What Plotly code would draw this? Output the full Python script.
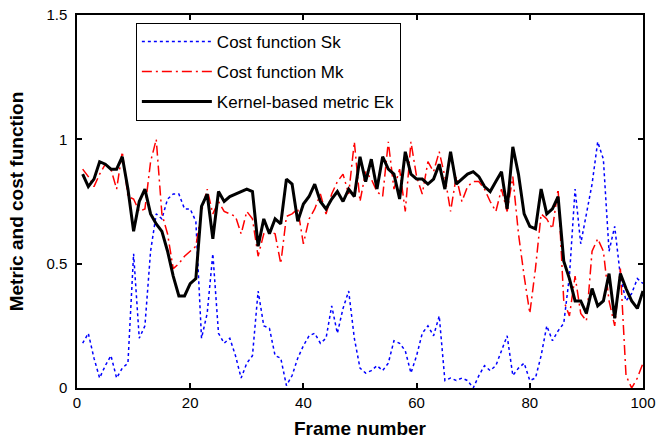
import plotly.graph_objects as go

frames = list(range(1, 101))

sk = [0.18, 0.22, 0.12, 0.04, 0.09, 0.13, 0.04, 0.08, 0.10, 0.54,
      0.20, 0.25, 0.55, 0.70, 0.68, 0.76, 0.78, 0.78, 0.72, 0.72,
      0.67, 0.20, 0.30, 0.54, 0.22, 0.18, 0.20, 0.13, 0.04, 0.10,
      0.13, 0.39, 0.25, 0.24, 0.13, 0.12, 0.01, 0.05, 0.12, 0.17,
      0.21, 0.22, 0.18, 0.20, 0.33, 0.22, 0.32, 0.39, 0.20, 0.08,
      0.06, 0.07, 0.09, 0.07, 0.10, 0.19, 0.18, 0.15, 0.06, 0.13,
      0.22, 0.25, 0.21, 0.29, 0.03, 0.04, 0.03, 0.04, 0.03, 0.00,
      0.05, 0.09, 0.07, 0.09, 0.15, 0.21, 0.05, 0.08, 0.10, 0.03,
      0.04, 0.13, 0.25, 0.19, 0.23, 0.26, 0.45, 0.80, 0.58, 0.70,
      0.82, 0.99, 0.92, 0.55, 0.65, 0.45, 0.35, 0.38, 0.44, 0.42]

mk = [0.88, 0.85, 0.81, 0.86, 0.90, 0.88, 0.80, 0.95, 0.77, 0.76,
      0.71, 0.72, 0.91, 1.00, 0.70, 0.62, 0.48, 0.50, 0.53, 0.55,
      0.57, 0.71, 0.80, 0.70, 0.75, 0.71, 0.70, 0.69, 0.62, 0.71,
      0.68, 0.53, 0.62, 0.63, 0.62, 0.50, 0.69, 0.70, 0.72, 0.58,
      0.68, 0.72, 0.78, 0.70, 0.78, 0.83, 0.86, 0.78, 0.99, 0.75,
      0.87, 0.84, 0.79, 0.77, 0.99, 0.80, 0.88, 0.71, 0.99, 0.85,
      0.78, 0.91, 0.87, 0.95, 0.85, 0.71, 0.85, 0.75, 0.81, 0.83,
      0.83, 0.80, 0.75, 0.71, 0.80, 0.71, 0.85, 0.62, 0.45, 0.30,
      0.48, 0.70, 0.68, 0.64, 0.80, 0.35, 0.29, 0.45, 0.30, 0.27,
      0.55, 0.60, 0.55, 0.35, 0.25, 0.48, 0.05, 0.00, 0.04, 0.10]

ek = [0.86, 0.81, 0.84, 0.91, 0.90, 0.88, 0.88, 0.93, 0.80, 0.63,
      0.75, 0.80, 0.70, 0.66, 0.63, 0.55, 0.45, 0.37, 0.37, 0.42,
      0.44, 0.73, 0.78, 0.60, 0.79, 0.75, 0.77, 0.78, 0.79, 0.80,
      0.79, 0.57, 0.68, 0.62, 0.68, 0.66, 0.84, 0.82, 0.67, 0.74,
      0.77, 0.82, 0.75, 0.72, 0.76, 0.79, 0.75, 0.80, 0.77, 0.93,
      0.83, 0.92, 0.80, 0.93, 0.88, 0.86, 0.76, 0.95, 0.86, 0.84,
      0.84, 0.82, 0.84, 0.90, 0.80, 0.95, 0.82, 0.84, 0.86, 0.87,
      0.85, 0.81, 0.79, 0.83, 0.87, 0.72, 0.97, 0.86, 0.70, 0.65,
      0.64, 0.80, 0.70, 0.72, 0.77, 0.51, 0.44, 0.35, 0.35, 0.30,
      0.40, 0.33, 0.35, 0.46, 0.28, 0.46, 0.40, 0.35, 0.32, 0.39]

names = ["Cost function Sk", "Cost function Mk", "Kernel-based metric Ek"]
x_ticks = [0, 20, 40, 60, 80, 100]
y_ticks = [0, 0.5, 1, 1.5]
y_tick_text = ["0", "0.5", "1", "1.5"]
x_range = [0, 100]
y_range = [0, 1.5]

fig = go.Figure()
fig.add_trace(go.Scatter(x=frames, y=sk, mode="lines", name=names[0], legendgroup="a",
                         line=dict(color="#0000FF", width=1.5, dash="3px,3px")))
fig.add_trace(go.Scatter(x=frames, y=mk, mode="lines", name=names[1], legendgroup="b",
                         line=dict(color="#FF0000", width=1.5, dash="10px,4px,2px,4px")))
fig.add_trace(go.Scatter(x=frames, y=ek, mode="lines", name=names[2], legendgroup="c",
                         line=dict(color="#000000", width=3)))

axis_font = dict(family="Liberation Sans, Arial, sans-serif", size=15, color="black")
title_font = dict(family="Liberation Sans, Arial, sans-serif",
                  size=19, color="black", weight="bold")

fig.update_layout(
    width=666, height=443,
    margin=dict(l=77, r=23, t=15, b=55),
    plot_bgcolor="white", paper_bgcolor="white",
    showlegend=True,
    legend=dict(x=0.104, y=0.979, xanchor="left", yanchor="top",
                bgcolor="white", bordercolor="black", borderwidth=1,
                font=dict(family="Liberation Sans, Arial, sans-serif", size=17, color="black"),
                itemwidth=70, traceorder="grouped", tracegroupgap=5),
    xaxis=dict(range=x_range, tickvals=x_ticks, ticks="inside", ticklen=5,
               tickcolor="black", tickwidth=1.5, showline=True, linecolor="black",
               linewidth=1.5, mirror="ticks", showgrid=False, zeroline=False,
               tickfont=axis_font, automargin=False, ticklabelstandoff=0,
               title=dict(text="Frame number", font=title_font, standoff=12)),
    yaxis=dict(range=y_range, tickvals=y_ticks, ticktext=y_tick_text, ticks="inside",
               ticklen=5, tickcolor="black", tickwidth=1.5, showline=True,
               linecolor="black", linewidth=1.5, mirror="ticks", showgrid=False,
               zeroline=False, tickfont=axis_font, automargin=False, ticklabelstandoff=5,
               title=dict(text="Metric and cost function", font=title_font, standoff=18)),
)

fig.write_html("out.html", config={"displayModeBar": False},
               post_script="document.body.style.margin='0px';")
